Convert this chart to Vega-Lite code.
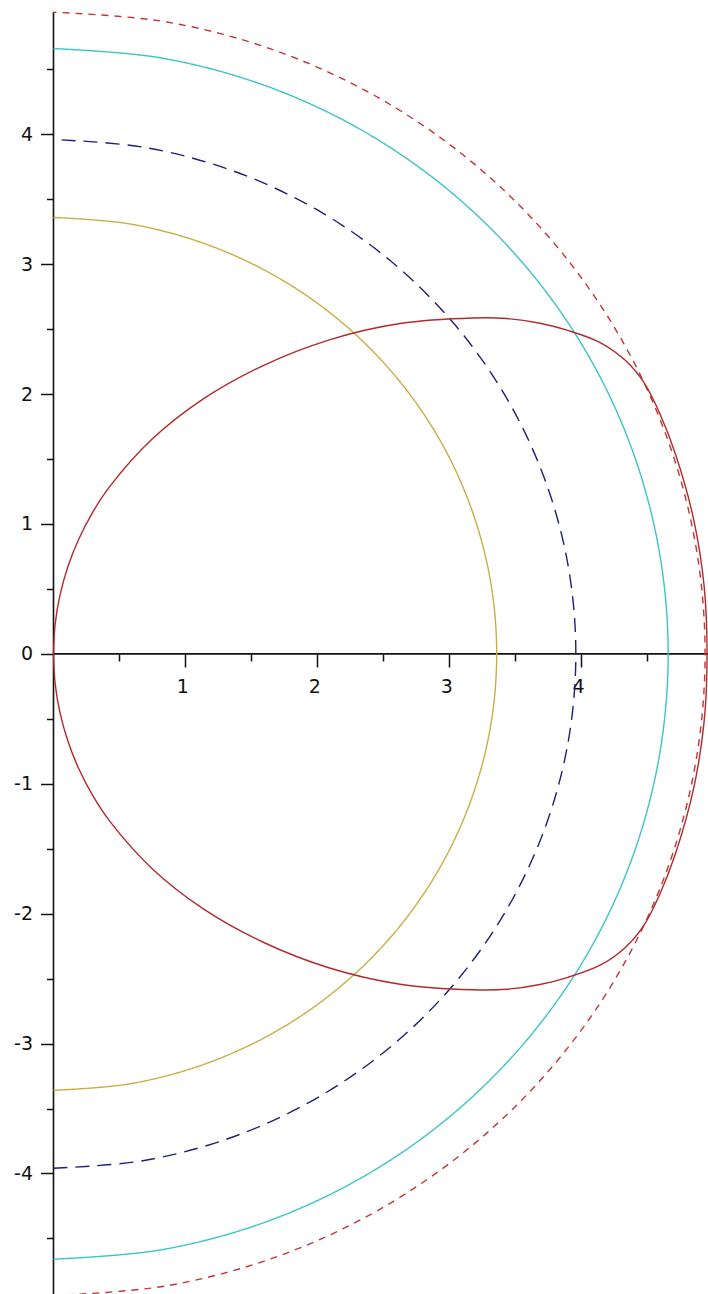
{
  "$schema": "https://vega.github.io/schema/vega-lite/v6.json",
  "width": 708,
  "height": 1294,
  "autosize": {"type": "none"},
  "padding": 0,
  "background": "white",
  "config": {
    "view": {"stroke": null},
    "axis": {
      "grid": false,
      "domain": false,
      "title": null,
      "labelFont": "DejaVu Sans",
      "labelFontSize": 19,
      "labelColor": "#111111",
      "tickColor": "#111111",
      "tickWidth": 1.5,
      "labelFlush": false,
      "labelOverlap": false
    }
  },
  "datasets": {
    "circles": [
      {"curve": "r4.94", "i": 0, "x": 0, "y": -4.94},
      {"curve": "r4.94", "i": 1, "x": 0.858, "y": -4.865},
      {"curve": "r4.94", "i": 2, "x": 1.69, "y": -4.642},
      {"curve": "r4.94", "i": 3, "x": 2.47, "y": -4.278},
      {"curve": "r4.94", "i": 4, "x": 3.175, "y": -3.784},
      {"curve": "r4.94", "i": 5, "x": 3.784, "y": -3.175},
      {"curve": "r4.94", "i": 6, "x": 4.278, "y": -2.47},
      {"curve": "r4.94", "i": 7, "x": 4.642, "y": -1.69},
      {"curve": "r4.94", "i": 8, "x": 4.865, "y": -0.858},
      {"curve": "r4.94", "i": 9, "x": 4.94, "y": 0},
      {"curve": "r4.94", "i": 10, "x": 4.865, "y": 0.858},
      {"curve": "r4.94", "i": 11, "x": 4.642, "y": 1.69},
      {"curve": "r4.94", "i": 12, "x": 4.278, "y": 2.47},
      {"curve": "r4.94", "i": 13, "x": 3.784, "y": 3.175},
      {"curve": "r4.94", "i": 14, "x": 3.175, "y": 3.784},
      {"curve": "r4.94", "i": 15, "x": 2.47, "y": 4.278},
      {"curve": "r4.94", "i": 16, "x": 1.69, "y": 4.642},
      {"curve": "r4.94", "i": 17, "x": 0.858, "y": 4.865},
      {"curve": "r4.94", "i": 18, "x": 0, "y": 4.94},

      {"curve": "r4.66", "i": 0, "x": 0, "y": -4.66},
      {"curve": "r4.66", "i": 1, "x": 0.809, "y": -4.589},
      {"curve": "r4.66", "i": 2, "x": 1.594, "y": -4.379},
      {"curve": "r4.66", "i": 3, "x": 2.33, "y": -4.036},
      {"curve": "r4.66", "i": 4, "x": 2.995, "y": -3.57},
      {"curve": "r4.66", "i": 5, "x": 3.57, "y": -2.995},
      {"curve": "r4.66", "i": 6, "x": 4.036, "y": -2.33},
      {"curve": "r4.66", "i": 7, "x": 4.379, "y": -1.594},
      {"curve": "r4.66", "i": 8, "x": 4.589, "y": -0.809},
      {"curve": "r4.66", "i": 9, "x": 4.66, "y": 0},
      {"curve": "r4.66", "i": 10, "x": 4.589, "y": 0.809},
      {"curve": "r4.66", "i": 11, "x": 4.379, "y": 1.594},
      {"curve": "r4.66", "i": 12, "x": 4.036, "y": 2.33},
      {"curve": "r4.66", "i": 13, "x": 3.57, "y": 2.995},
      {"curve": "r4.66", "i": 14, "x": 2.995, "y": 3.57},
      {"curve": "r4.66", "i": 15, "x": 2.33, "y": 4.036},
      {"curve": "r4.66", "i": 16, "x": 1.594, "y": 4.379},
      {"curve": "r4.66", "i": 17, "x": 0.809, "y": 4.589},
      {"curve": "r4.66", "i": 18, "x": 0, "y": 4.66},

      {"curve": "r3.96", "i": 0, "x": 0, "y": -3.96},
      {"curve": "r3.96", "i": 1, "x": 0.688, "y": -3.9},
      {"curve": "r3.96", "i": 2, "x": 1.354, "y": -3.721},
      {"curve": "r3.96", "i": 3, "x": 1.98, "y": -3.429},
      {"curve": "r3.96", "i": 4, "x": 2.545, "y": -3.034},
      {"curve": "r3.96", "i": 5, "x": 3.034, "y": -2.545},
      {"curve": "r3.96", "i": 6, "x": 3.429, "y": -1.98},
      {"curve": "r3.96", "i": 7, "x": 3.721, "y": -1.354},
      {"curve": "r3.96", "i": 8, "x": 3.9, "y": -0.688},
      {"curve": "r3.96", "i": 9, "x": 3.96, "y": 0},
      {"curve": "r3.96", "i": 10, "x": 3.9, "y": 0.688},
      {"curve": "r3.96", "i": 11, "x": 3.721, "y": 1.354},
      {"curve": "r3.96", "i": 12, "x": 3.429, "y": 1.98},
      {"curve": "r3.96", "i": 13, "x": 3.034, "y": 2.545},
      {"curve": "r3.96", "i": 14, "x": 2.545, "y": 3.034},
      {"curve": "r3.96", "i": 15, "x": 1.98, "y": 3.429},
      {"curve": "r3.96", "i": 16, "x": 1.354, "y": 3.721},
      {"curve": "r3.96", "i": 17, "x": 0.688, "y": 3.9},
      {"curve": "r3.96", "i": 18, "x": 0, "y": 3.96},

      {"curve": "r3.36", "i": 0, "x": 0, "y": -3.36},
      {"curve": "r3.36", "i": 1, "x": 0.584, "y": -3.309},
      {"curve": "r3.36", "i": 2, "x": 1.149, "y": -3.157},
      {"curve": "r3.36", "i": 3, "x": 1.68, "y": -2.91},
      {"curve": "r3.36", "i": 4, "x": 2.16, "y": -2.574},
      {"curve": "r3.36", "i": 5, "x": 2.574, "y": -2.16},
      {"curve": "r3.36", "i": 6, "x": 2.91, "y": -1.68},
      {"curve": "r3.36", "i": 7, "x": 3.157, "y": -1.149},
      {"curve": "r3.36", "i": 8, "x": 3.309, "y": -0.584},
      {"curve": "r3.36", "i": 9, "x": 3.36, "y": 0},
      {"curve": "r3.36", "i": 10, "x": 3.309, "y": 0.584},
      {"curve": "r3.36", "i": 11, "x": 3.157, "y": 1.149},
      {"curve": "r3.36", "i": 12, "x": 2.91, "y": 1.68},
      {"curve": "r3.36", "i": 13, "x": 2.574, "y": 2.16},
      {"curve": "r3.36", "i": 14, "x": 2.16, "y": 2.574},
      {"curve": "r3.36", "i": 15, "x": 1.68, "y": 2.91},
      {"curve": "r3.36", "i": 16, "x": 1.149, "y": 3.157},
      {"curve": "r3.36", "i": 17, "x": 0.584, "y": 3.309},
      {"curve": "r3.36", "i": 18, "x": 0, "y": 3.36}
    ],
    "loop": [
      {"i": 0, "x": 0, "y": 0},
      {"i": 1, "x": 0.0121, "y": 0.2254},
      {"i": 2, "x": 0.0483, "y": 0.4491},
      {"i": 3, "x": 0.1083, "y": 0.6693},
      {"i": 4, "x": 0.1918, "y": 0.8845},
      {"i": 5, "x": 0.2979, "y": 1.092},
      {"i": 6, "x": 0.426, "y": 1.288},
      {"i": 7, "x": 0.744, "y": 1.65},
      {"i": 8, "x": 1.1359, "y": 1.963},
      {"i": 9, "x": 1.59, "y": 2.22},
      {"i": 10, "x": 2.0924, "y": 2.418},
      {"i": 11, "x": 2.6278, "y": 2.543},
      {"i": 12, "x": 3.18, "y": 2.586},
      {"i": 13, "x": 3.436, "y": 2.582},
      {"i": 14, "x": 3.688, "y": 2.545},
      {"i": 15, "x": 3.9, "y": 2.49},
      {"i": 16, "x": 4.148, "y": 2.395},
      {"i": 17, "x": 4.337, "y": 2.258},
      {"i": 18, "x": 4.477, "y": 2.088},
      {"i": 19, "x": 4.594, "y": 1.856},
      {"i": 20, "x": 4.717, "y": 1.533},
      {"i": 21, "x": 4.854, "y": 1.032},
      {"i": 22, "x": 4.933, "y": 0.518},
      {"i": 23, "x": 4.955, "y": 0},
      {"i": 24, "x": 4.933, "y": -0.518},
      {"i": 25, "x": 4.854, "y": -1.032},
      {"i": 26, "x": 4.717, "y": -1.533},
      {"i": 27, "x": 4.594, "y": -1.856},
      {"i": 28, "x": 4.477, "y": -2.088},
      {"i": 29, "x": 4.337, "y": -2.258},
      {"i": 30, "x": 4.148, "y": -2.395},
      {"i": 31, "x": 3.9, "y": -2.49},
      {"i": 32, "x": 3.688, "y": -2.545},
      {"i": 33, "x": 3.436, "y": -2.582},
      {"i": 34, "x": 3.18, "y": -2.586},
      {"i": 35, "x": 2.6278, "y": -2.543},
      {"i": 36, "x": 2.0924, "y": -2.418},
      {"i": 37, "x": 1.59, "y": -2.22},
      {"i": 38, "x": 1.1359, "y": -1.963},
      {"i": 39, "x": 0.744, "y": -1.65},
      {"i": 40, "x": 0.426, "y": -1.288},
      {"i": 41, "x": 0.2979, "y": -1.092},
      {"i": 42, "x": 0.1918, "y": -0.8845},
      {"i": 43, "x": 0.1083, "y": -0.6693},
      {"i": 44, "x": 0.0483, "y": -0.4491},
      {"i": 45, "x": 0.0121, "y": -0.2254},
      {"i": 46, "x": 0, "y": 0}
    ]
  },
  "resolve": {"axis": {"x": "independent", "y": "independent"}},
  "layer": [
    {
      "data": {"values": [{}]},
      "mark": {"type": "rule", "color": "#111111", "strokeWidth": 1.6},
      "encoding": {
        "x": {"datum": 0, "type": "quantitative", "scale": {"domain": [-0.4056, 4.962], "nice": false, "zero": false}, "axis": null},
        "y": {"datum": -5.2, "type": "quantitative", "scale": {"domain": [-4.928, 5.034], "nice": false, "zero": false}, "axis": null},
        "y2": {"datum": 4.94}
      }
    },
    {
      "data": {"values": [{}]},
      "mark": {"type": "rule", "color": "#111111", "strokeWidth": 1.6},
      "encoding": {
        "x": {"datum": 0, "type": "quantitative", "scale": {"domain": [-0.4056, 4.962], "nice": false, "zero": false}, "axis": null},
        "x2": {"datum": 5.2},
        "y": {"datum": 0, "type": "quantitative", "scale": {"domain": [-4.928, 5.034], "nice": false, "zero": false}, "axis": null}
      }
    },
    {
      "data": {"name": "circles"},
      "mark": {"type": "line", "interpolate": "catmull-rom", "strokeWidth": 1.4},
      "encoding": {
        "x": {
          "field": "x", "type": "quantitative",
          "scale": {"domain": [-0.4056, 4.962], "nice": false, "zero": false},
          "axis": {"orient": "bottom", "offset": -640, "values": [1, 2, 3, 4, 5], "tickSize": 13, "labelPadding": 10, "labelOffset": -3}
        },
        "y": {
          "field": "y", "type": "quantitative",
          "scale": {"domain": [-4.928, 5.034], "nice": false, "zero": false},
          "axis": {"orient": "left", "offset": -53.5, "values": [-4, -3, -2, -1, 0, 1, 2, 3, 4], "tickSize": 13, "labelPadding": 8, "labelExpr": "toString(datum.value)"}
        },
        "order": {"field": "i", "type": "quantitative"},
        "color": {
          "field": "curve", "type": "nominal", "legend": null,
          "scale": {"domain": ["r4.94", "r4.66", "r3.96", "r3.36"], "range": ["#c43535", "#3cc3cb", "#1f1f7a", "#c9ae45"]}
        },
        "strokeDash": {
          "field": "curve", "type": "nominal", "legend": null,
          "scale": {"domain": ["r4.94", "r4.66", "r3.96", "r3.36"], "range": [[7, 6], [1, 0], [14, 8], [1, 0]]}
        }
      }
    },
    {
      "data": {"name": "loop"},
      "mark": {"type": "line", "interpolate": "catmull-rom", "strokeWidth": 1.4, "color": "#b32a2a"},
      "encoding": {
        "x": {
          "field": "x", "type": "quantitative",
          "scale": {"domain": [-0.4056, 4.962], "nice": false, "zero": false},
          "axis": {"orient": "bottom", "offset": -640, "values": [0.5, 1.5, 2.5, 3.5, 4.5], "tickSize": 7, "labels": false}
        },
        "y": {
          "field": "y", "type": "quantitative",
          "scale": {"domain": [-4.928, 5.034], "nice": false, "zero": false},
          "axis": {"orient": "left", "offset": -53.5, "values": [-4.5, -3.5, -2.5, -1.5, -0.5, 0.5, 1.5, 2.5, 3.5, 4.5], "tickSize": 7, "labels": false}
        },
        "order": {"field": "i", "type": "quantitative"}
      }
    }
  ]
}
